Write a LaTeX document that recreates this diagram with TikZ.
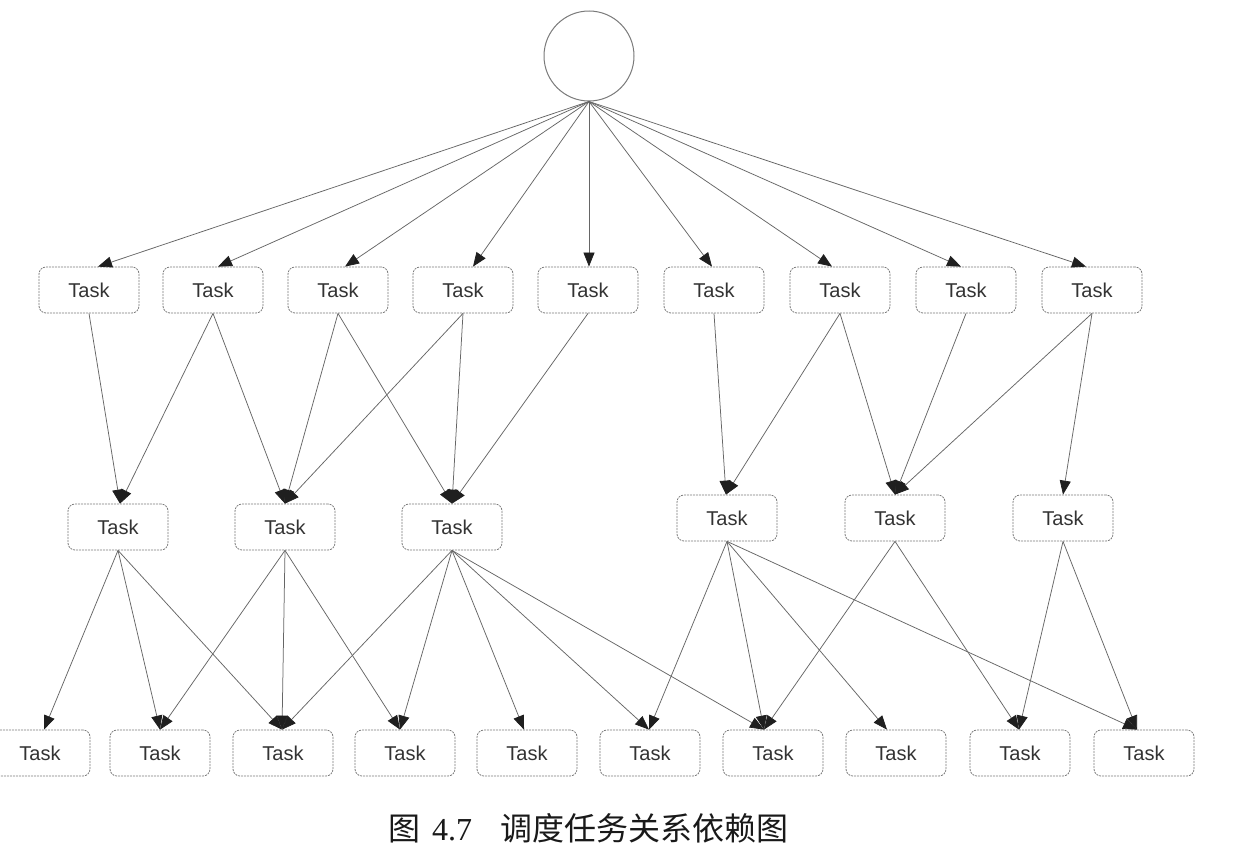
\documentclass[tikz,border=0pt]{standalone}
\usepackage{fontspec}
\setmainfont{Liberation Serif}
\setsansfont{Liberation Sans}
\newfontfamily\cjk{Noto Sans CJK SC}
\usetikzlibrary{arrows.meta}
\definecolor{linegray}{HTML}{666666}
\definecolor{boxgray}{HTML}{7A7A7A}
\definecolor{txtgray}{HTML}{333333}
\tikzset{
  taskbox/.style={draw=boxgray, line width=0.8pt, dash pattern=on 2pt off 1pt,
    rounded corners=7pt, fill=white, minimum width=100pt, minimum height=46pt,
    inner sep=0pt, text=txtgray, font=\sffamily\fontsize{20}{24}\selectfont},
  rootcirc/.style={circle, draw=boxgray, line width=1pt, minimum size=90pt, inner sep=0pt},
  dep/.style={draw=linegray, line width=0.75pt,
    -{Triangle[length=14pt,width=11pt,color=black!88]}},
}
\begin{document}
\begin{tikzpicture}[x=1pt,y=-1pt]
\useasboundingbox[fill=white] (0,0) rectangle (1238,862);
% root
\node[rootcirc] (root) at (589,56) {};
% row 1
\foreach \n/\x in {1/89,2/213,3/338,4/463,5/588,6/714,7/840,8/966,9/1092}
  \node[taskbox] (T\n) at (\x,290) {Task};
% row 2
\node[taskbox] (M1) at (118,527) {Task};
\node[taskbox] (M2) at (285,527) {Task};
\node[taskbox] (M3) at (452,527) {Task};
\node[taskbox] (M4) at (727,518) {Task};
\node[taskbox] (M5) at (895,518) {Task};
\node[taskbox] (M6) at (1063,518) {Task};
% row 3
\foreach \n/\x in {1/40,2/160,3/283,4/405,5/527,6/650,7/773,8/896,9/1020,10/1144}
  \node[taskbox] (B\n) at (\x,753) {Task};
% root edges
\foreach \n/\s in {1/9,2/5,3/7,4/10,5/1,6/-2,7/-8,8/-5,9/-6}
  \draw[dep] (root.south) -- ([xshift=\s pt]T\n.north);
% row1 -> row2
\foreach \a/\b/\s in {1/1/2,2/1/2,2/2/0,3/2/0,4/2/0,3/3/0,4/3/0,5/3/0}
  \draw[dep] (T\a.south) -- ([xshift=\s pt]M\b.north);
\foreach \a/\b/\s in {6/4/-1,7/4/-1,7/5/0,8/5/0,9/5/0,9/6/0}
  \draw[dep] (T\a.south) -- ([xshift=\s pt]M\b.north);
% row2 -> row3
\foreach \a/\b/\s in {1/1/4,1/2/0,1/3/-1,2/2/0,2/3/-1,2/4/-5,3/3/-1,3/4/-5,3/5/-3,3/6/-1,3/7/-9,
  4/6/-1,4/7/-9,4/8/-9,4/10/-7,5/7/-9,5/9/-1,6/9/-1,6/10/-7}
  \draw[dep] (M\a.south) -- ([xshift=\s pt]B\b.north);
% caption
\node[inner sep=0pt, text=black!90] (cap) at (588,828)
  {{\cjk\fontsize{32}{36}\selectfont 图}\hspace{12pt}{\rmfamily\fontsize{32}{36}\selectfont 4.7}\hspace{28pt}{\cjk\fontsize{32}{36}\selectfont 调度任务关系依赖图}};
\end{tikzpicture}
\end{document}
